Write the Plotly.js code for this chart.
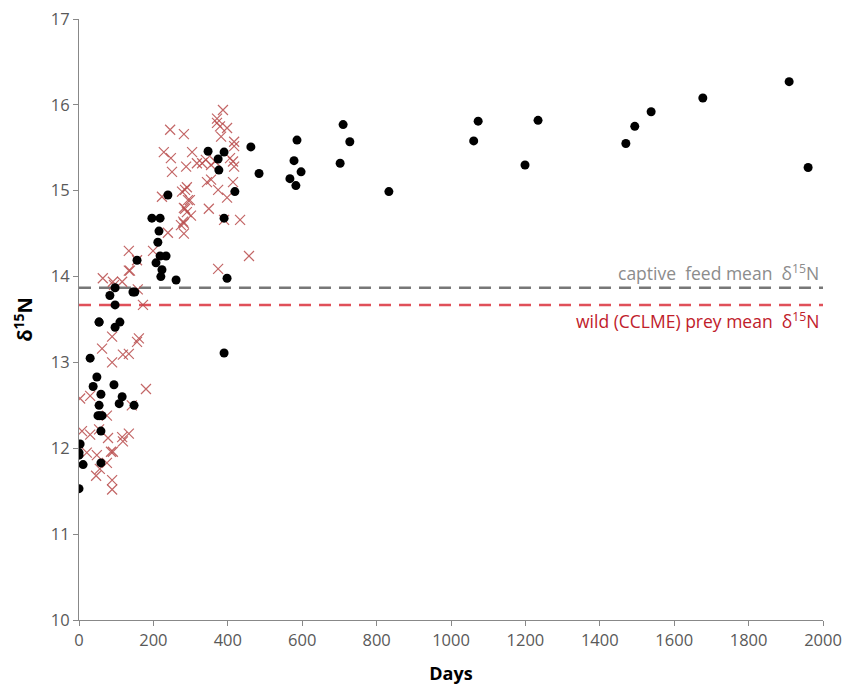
<!DOCTYPE html>
<html><head><meta charset="utf-8">
<script src="https://cdn.plot.ly/plotly-3.0.1.min.js"></script>
<style>html,body{margin:0;padding:0;background:#fff}</style>
</head><body><div id="chart" style="width:849px;height:687px"></div>
<script>
// Black circles: individual samples
const dotDays = [0,3,0,0,11,30,38,48,54,54,59,56,51,62,59,59,97,83,145,150,97,54,110,97,94,116,108,148,390,
  347,390,374,376,462,484,419,239,390,196,218,215,212,218,234,207,223,220,261,398,156,
  1073,1061,1199,1234,1470,1494,1538,1677,1909,1960,710,728,702,586,578,597,567,583,833];
const dotD15N = [11.53,12.05,11.95,11.92,11.81,13.05,12.72,12.83,13.47,12.50,12.63,12.38,12.38,12.38,12.20,11.83,13.87,13.78,13.82,13.82,13.67,13.47,13.47,13.41,12.74,12.60,12.52,12.50,13.11,
  15.46,15.45,15.37,15.24,15.51,15.20,14.99,14.95,14.68,14.68,14.68,14.53,14.40,14.24,14.24,14.16,14.08,14.00,13.96,13.98,14.19,
  15.81,15.58,15.30,15.82,15.55,15.75,15.92,16.08,16.27,15.27,15.77,15.57,15.32,15.59,15.35,15.22,15.14,15.06,14.99];

// Red crosses: second group of samples
const crossDays = [387,371,371,379,398,245,282,382,417,417,228,247,304,317,331,341,355,366,406,414,417,288,250,344,355,414,290,277,374,223,298,398,282,290,349,301,274,282,390,433,282,239,199,134,134,457,374,156,64,91,116,137,94,158,172,
  89,62,161,156,118,134,89,180,3,30,142,75,8,30,54,78,116,134,118,21,48,86,91,75,56,46,89,89,285,293,285,280];
const crossD15N = [15.94,15.84,15.79,15.75,15.73,15.71,15.66,15.63,15.57,15.52,15.45,15.38,15.45,15.32,15.32,15.36,15.30,15.34,15.38,15.34,15.28,15.28,15.22,15.10,15.13,15.10,15.04,14.99,15.01,14.93,14.89,14.92,14.80,14.75,14.79,14.71,14.60,14.62,14.66,14.66,14.50,14.51,14.30,14.30,14.07,14.24,14.09,14.19,13.98,13.94,13.94,14.07,13.90,13.85,13.67,
  13.30,13.16,13.28,13.24,13.09,13.10,13.00,12.69,12.58,12.61,12.50,12.38,12.20,12.16,12.22,12.12,12.13,12.17,12.08,11.95,11.92,11.96,11.96,11.83,11.76,11.68,11.63,11.52,15.01,14.89,14.79,14.64];

// Reference means
const lineDays = [0, 2000];
const captiveMean = [13.87, 13.87];
const wildMean = [13.67, 13.67];

const xTicks = [0,200,400,600,800,1000,1200,1400,1600,1800,2000];
const yTicks = [10,11,12,13,14,15,16,17];

const font = "'Open Sans', Lato, sans-serif";

const traces = [
  {x: lineDays, y: captiveMean, mode: 'lines', line: {color: '#777777', width: 2.5, dash: '12px,8px'}, hoverinfo: 'skip'},
  {x: lineDays, y: wildMean, mode: 'lines', line: {color: '#e0505a', width: 2.5, dash: '12px,8px'}, hoverinfo: 'skip'},
  {x: crossDays, y: crossD15N, mode: 'markers', marker: {symbol: 'x-thin-open', size: 10, color: 'rgba(185,75,75,0.85)', line: {color: 'rgba(185,75,75,0.85)', width: 1.2}}},
  {x: dotDays, y: dotD15N, mode: 'markers', marker: {symbol: 'circle', size: 9, color: '#000000'}}
];

const layout = {
  width: 849, height: 687,
  margin: {l: 79, r: 26, t: 19, b: 67},
  paper_bgcolor: '#fff', plot_bgcolor: '#fff',
  showlegend: false,
  font: {family: font, color: '#595959', size: 16},
  xaxis: {
    range: [0, 2000], tickvals: xTicks, ticktext: xTicks.map(String),
    showgrid: false, zeroline: false, showline: true, linecolor: '#888', linewidth: 1,
    ticks: 'outside', ticklen: 5, tickcolor: '#888',
    tickfont: {family: font, size: 16.5, color: '#595959'},
    title: {text: '<b>Days</b>', font: {family: font, size: 18, color: '#000'}, standoff: 17}
  },
  yaxis: {
    range: [10, 17], tickvals: yTicks, ticktext: yTicks.map(String),
    showgrid: false, zeroline: false, showline: true, linecolor: '#888', linewidth: 1,
    ticks: 'outside', ticklen: 5, tickcolor: '#888',
    tickfont: {family: font, size: 16.5, color: '#595959'},
    title: {text: '<b>δ<sup>15</sup>N</b>', font: {family: font, size: 20, color: '#000'}, standoff: 12}
  },
  annotations: [
    {x: 1995, y: captiveMean[0], xref: 'x', yref: 'y', xanchor: 'right', yanchor: 'bottom', yshift: 1,
     text: 'captive  feed mean  δ<sup>15</sup>N', showarrow: false, font: {family: font, size: 17.5, color: '#8c8c8c'}},
    {x: 1995, y: wildMean[0], xref: 'x', yref: 'y', xanchor: 'right', yanchor: 'top', yshift: -1,
     text: 'wild (CCLME) prey mean  δ<sup>15</sup>N', showarrow: false, font: {family: font, size: 17.5, color: '#c0202a'}}
  ]
};

Plotly.newPlot('chart', traces, layout, {displayModeBar: false, staticPlot: true});
</script></body></html>
